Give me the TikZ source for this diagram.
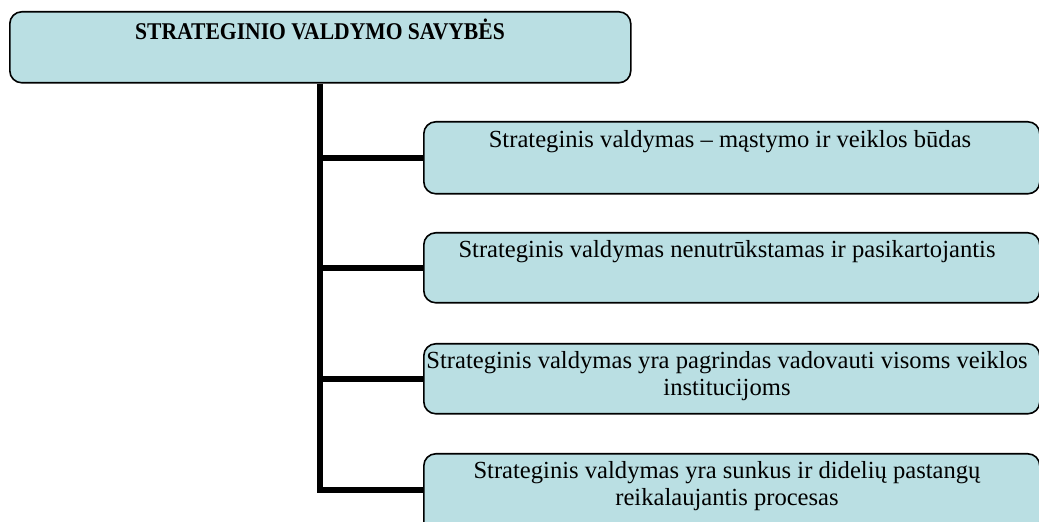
\documentclass[tikz,border=0pt]{standalone}
\usepackage{fontspec}
\setmainfont{Liberation Serif}
\definecolor{boxfill}{RGB}{186,223,227}
\begin{document}
\begin{tikzpicture}[x=0.5pt,y=-0.5pt,
  panel/.style={draw=black,line width=0.8pt,fill=boxfill,rounded corners=6pt,
    inner sep=0pt,anchor=north west},
  caption/.style={anchor=center,align=center,inner sep=0pt,
    font=\fontsize{12.3}{13.6}\selectfont},
  conn/.style={line width=3pt,black}]
\useasboundingbox (0,0) rectangle (1039,522);
% heading box
\node[panel,minimum width=310.5pt,minimum height=35.5pt] (top) at (9,11) {};
\node[caption,font=\fontsize{12}{13.8}\bfseries] (toptext) at (320,29)
  {\scalebox{0.9}[1]{STRATEGINIO VALDYMO SAVYBĖS}};
% property boxes
\node[panel,minimum width=308pt,minimum height=36pt] (b1) at (423,121) {};
\node[panel,minimum width=308pt,minimum height=35pt] (b2) at (423,232) {};
\node[panel,minimum width=308pt,minimum height=35pt] (b3) at (423,343) {};
\node[panel,minimum width=308pt,minimum height=40pt] (b4) at (423,453) {};
\node[caption] (t1) at (730,142) {Strateginis valdymas – mąstymo ir veiklos būdas};
\node[caption] (t2) at (727,252) {Strateginis valdymas nenutrūkstamas ir pasikartojantis};
\node[caption] (t3) at (727,376) {Strateginis valdymas yra pagrindas vadovauti visoms veiklos\\institucijoms};
\node[caption] (t4) at (727,486) {Strateginis valdymas yra sunkus ir didelių pastangų\\reikalaujantis procesas};
% spine and branches
\coordinate (spine) at (320,0);
\draw[conn] (top.south -| spine) |- ([yshift=2pt]b4.west);
\draw[conn] (b1.west) -- (b1.west -| spine);
\draw[conn] (b2.west) -- (b2.west -| spine);
\draw[conn] (b3.west) -- (b3.west -| spine);
\end{tikzpicture}
\end{document}
